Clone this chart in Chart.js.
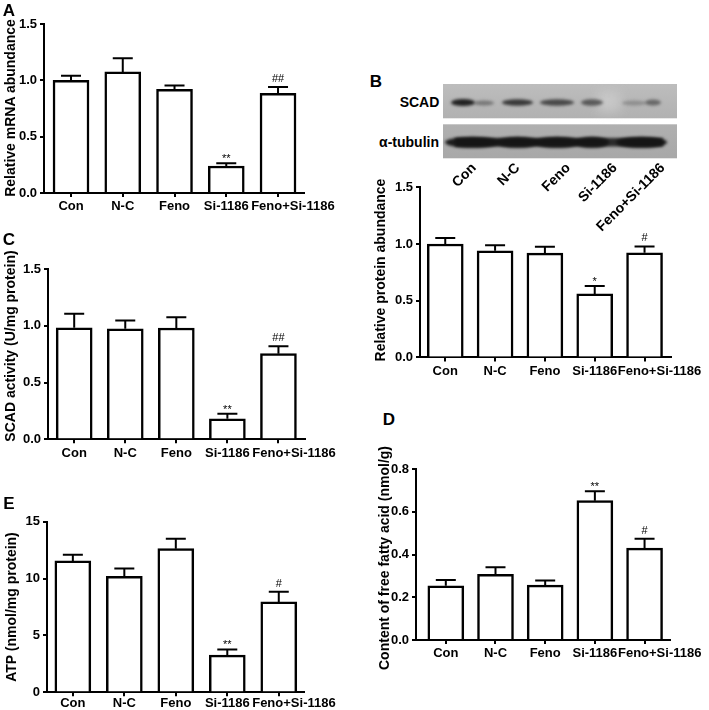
<!DOCTYPE html>
<html><head><meta charset="utf-8">
<script src="https://cdn.jsdelivr.net/npm/chart.js@4/dist/chart.umd.min.js"></script>
<style>
html,body{margin:0;padding:0;background:#fff;}
body{width:709px;height:710px;position:relative;overflow:hidden;font-family:"Liberation Sans",Arial,sans-serif;color:#000;}
.box{position:absolute;}
.txt{position:absolute;font-weight:bold;white-space:nowrap;line-height:1;}
.anchor{position:absolute;width:0;height:0;}
.rot{position:absolute;right:0;top:-0.5em;font-weight:bold;font-size:14px;line-height:1;white-space:nowrap;transform-origin:100% 50%;transform:rotate(-45deg);}
</style></head><body>
<script>
// ---------------- data ----------------
const categories = ['Con', 'N-C', 'Feno', 'Si-1186', 'Feno+Si-1186'];

const mrnaMean = [1.00, 1.075, 0.92, 0.24, 0.885];
const mrnaSem  = [0.04, 0.12, 0.035, 0.025, 0.055];
const mrnaMarks = ['', '', '', '**', '##'];
const mrnaTicks = ['0.0', '0.5', '1.0', '1.5'];

const proteinMean = [1.00, 0.94, 0.92, 0.56, 0.923];
const proteinSem  = [0.053, 0.05, 0.055, 0.07, 0.055];
const proteinMarks = ['', '', '', '*', '#'];
const proteinTicks = ['0.0', '0.5', '1.0', '1.5'];

const activityMean = [0.982, 0.974, 0.98, 0.181, 0.754];
const activitySem  = [0.123, 0.073, 0.096, 0.044, 0.065];
const activityMarks = ['', '', '', '**', '##'];
const activityTicks = ['0.0', '0.5', '1.0', '1.5'];

const ffaMean = [0.254, 0.307, 0.257, 0.652, 0.430];
const ffaSem  = [0.027, 0.033, 0.021, 0.044, 0.044];
const ffaMarks = ['', '', '', '**', '#'];
const ffaTicks = ['0.0', '0.2', '0.4', '0.6', '0.8'];

const atpMean = [11.55, 10.2, 12.63, 3.27, 7.95];
const atpSem  = [0.55, 0.68, 0.88, 0.5, 0.88];
const atpMarks = ['', '', '', '**', '#'];
const atpTicks = ['0', '5', '10', '15'];

// blot band intensities (lane, relative darkness)
const scadBandDarkness = [0.95, 0.8, 0.7, 0.6, 0.45];
const tubulinBandDarkness = [0.95, 0.92, 0.92, 0.92, 0.95];

// ---------------- styling / layout ----------------
const FONT = '"Liberation Sans", Arial, sans-serif';
const CAT_FONT = { family: FONT, size: 13, weight: 'bold' };
const measure = document.createElement('canvas').getContext('2d');
measure.font = 'bold 13px ' + FONT;

const errPlugin = {
  id: 'err',
  afterDatasetsDraw(chart, args, opts) {
    const ctx = chart.ctx, x = chart.scales.x, y = chart.scales.y;
    ctx.save();
    ctx.strokeStyle = '#000';
    ctx.lineWidth = 2;
    ctx.fillStyle = '#000';
    opts.mean.forEach((m, i) => {
      const px = x.getPixelForValue(i);
      const y0 = y.getPixelForValue(m);
      const y1 = y.getPixelForValue(m + opts.sem[i]);
      ctx.beginPath();
      ctx.moveTo(px, y0);
      ctx.lineTo(px, y1);
      ctx.moveTo(px - 10, y1);
      ctx.lineTo(px + 10, y1);
      ctx.stroke();
      const mk = opts.marks[i];
      if (mk) {
        ctx.font = '11px ' + FONT;
        ctx.textAlign = 'center';
        ctx.textBaseline = 'alphabetic';
        const off = mk[0] === '*' ? 0 : 4;
        ctx.fillText(mk, px, y1 - 1 - off);
      }
    });
    ctx.restore();
  }
};

function panel(box, area, xr, mean, sem, marks, tickLabels, xh, lpad) {
  const wrap = document.createElement('div');
  wrap.className = 'box';
  wrap.style.left = box.l + 'px';
  wrap.style.top = box.t + 'px';
  wrap.style.width = box.w + 'px';
  wrap.style.height = box.h + 'px';
  const cv = document.createElement('canvas');
  cv.width = box.w; cv.height = box.h;
  cv.style.width = box.w + 'px'; cv.style.height = box.h + 'px';
  wrap.appendChild(cv);
  document.body.appendChild(wrap);
  const YW = 30, XH = xh || 30;
  const tickVals = tickLabels.map(parseFloat);
  // label positions: centred under bars, pushed right when they would collide (as in the original)
  const pxPerUnit = (area.r - area.l) / (xr[1] - xr[0]);
  const labelPos = [];
  categories.forEach((c, i) => {
    let p = i;
    if (i > 0) {
      const prev = labelPos[i - 1];
      const need = (measure.measureText(categories[i - 1]).width + measure.measureText(c).width) / 2 + 2.5;
      const minP = prev + need / pxPerUnit;
      if (p < minP) p = minP;
    }
    labelPos.push(p);
  });
  new Chart(cv, {
    type: 'bar',
    data: {
      datasets: [{
        xAxisID: 'x',
        data: mean.map((v, i) => ({ x: i, y: v })),
        backgroundColor: '#ffffff',
        borderColor: '#000000',
        borderWidth: 2.5,
        borderSkipped: 'bottom',
        barThickness: 36
      }]
    },
    options: {
      responsive: false,
      animation: false,
      devicePixelRatio: 1,
      layout: { padding: {
        left: area.l - box.l - YW,
        right: box.l + box.w - area.r,
        top: area.t - box.t,
        bottom: box.t + box.h - area.b - XH
      } },
      plugins: {
        legend: { display: false },
        tooltip: { enabled: false },
        err: { mean: mean, sem: sem, marks: marks }
      },
      scales: {
        x: {
          type: 'linear', min: xr[0], max: xr[1], offset: false, z: 1, weight: 0,
          afterBuildTicks: s => { s.ticks = categories.map((c, i) => ({ value: i })); },
          afterFit: s => { s.height = 0; },
          ticks: { display: false },
          grid: { display: true, offset: false, drawOnChartArea: false, drawTicks: true, tickLength: 4, color: '#000', lineWidth: 2 },
          border: { display: true, color: '#000', width: 2 }
        },
        xl: {
          type: 'linear', axis: 'x', position: 'bottom', min: xr[0], max: xr[1], offset: false, z: 1, weight: 1,
          afterBuildTicks: s => { s.ticks = labelPos.map(v => ({ value: v })); },
          afterFit: s => { s.height = XH; },
          ticks: { callback: (v, i) => categories[i], font: CAT_FONT, color: '#000', padding: (lpad === undefined ? 6 : lpad), maxRotation: 0, autoSkip: false },
          grid: { display: false, drawTicks: false },
          border: { display: false }
        },
        y: {
          type: 'linear', min: tickVals[0], max: tickVals[tickVals.length - 1], z: 1,
          afterBuildTicks: s => { s.ticks = tickVals.map(v => ({ value: v })); },
          afterFit: s => { s.width = YW; },
          ticks: { callback: (v, i) => tickLabels[i], font: { family: FONT, size: 13, weight: 'bold' }, color: '#000', padding: 3 },
          grid: { display: true, drawOnChartArea: false, drawTicks: true, tickLength: 4, color: '#000', lineWidth: 2 },
          border: { display: true, color: '#000', width: 2 }
        }
      }
    },
    plugins: [errPlugin]
  });
}

// Panel A
panel({ l: 0, t: 0, w: 354, h: 232 }, { l: 44, r: 304, t: 24, b: 193 }, [-0.522, 4.502], mrnaMean, mrnaSem, mrnaMarks, mrnaTicks);
// Panel C
panel({ l: 0, t: 245, w: 354, h: 230 }, { l: 48, r: 305, t: 269, b: 439.3 }, [-0.513, 4.52], activityMean, activitySem, activityMarks, activityTicks);
// Panel E
panel({ l: 0, t: 500, w: 354, h: 210 }, { l: 47, r: 304, t: 521.7, b: 692.3 }, [-0.502, 4.49], atpMean, atpSem, atpMarks, atpTicks, 17, 3);
// Panel B (bars)
panel({ l: 360, t: 175, w: 349, h: 210 }, { l: 420, r: 678, t: 187.3, b: 357.4 }, [-0.507, 4.53], proteinMean, proteinSem, proteinMarks, proteinTicks);
// Panel D
panel({ l: 360, t: 450, w: 349, h: 225 }, { l: 416, r: 677, t: 469, b: 640 }, [-0.60, 4.51], ffaMean, ffaSem, ffaMarks, ffaTicks);

// ---------------- text ----------------
function addText(s, x, y, size, align, rotate) {
  const d = document.createElement('div');
  d.className = 'txt';
  d.textContent = s;
  d.style.left = x + 'px';
  d.style.top = y + 'px';
  d.style.fontSize = size + 'px';
  const tx = align === 'right' ? '-100%' : '-50%';
  d.style.transform = 'translate(' + tx + ',-50%)' + (rotate ? ' rotate(' + rotate + 'deg)' : '');
  document.body.appendChild(d);
}
addText('A', 9, 10, 17);
addText('B', 376, 81, 17);
addText('C', 9, 239, 17);
addText('D', 389, 419, 17);
addText('E', 9, 502.5, 17);

addText('Relative mRNA abundance', 10, 108, 14, 'center', -90);
addText('SCAD activity (U/mg protein)', 10, 346, 14, 'center', -90);
addText('ATP (nmol/mg protein)', 11, 607, 14, 'center', -90);
addText('Relative protein abundance', 380, 270, 14, 'center', -90);
addText('Content of free fatty acid (nmol/g)', 384, 558, 14, 'center', -90);

addText('SCAD', 439.3, 101.7, 14, 'right');
addText('\u03b1-tubulin', 439, 141.7, 14, 'right');

const rotEnds = [477, 520.5, 570.5, 618, 665];
categories.forEach((c, i) => {
  const a = document.createElement('div');
  a.className = 'anchor';
  a.style.left = (rotEnds[i] - 3.5) + 'px';
  a.style.top = '165px';
  const s = document.createElement('span');
  s.className = 'rot';
  s.textContent = c;
  a.appendChild(s);
  document.body.appendChild(a);
});

// ---------------- western blot picture ----------------
(function () {
  const cv = document.createElement('canvas');
  cv.width = 709; cv.height = 170;
  cv.style.position = 'absolute'; cv.style.left = '0px'; cv.style.top = '0px';
  document.body.appendChild(cv);
  const ctx = cv.getContext('2d');
  function strip(y0, y1, c0, c1) {
    const g = ctx.createLinearGradient(0, y0, 0, y1);
    g.addColorStop(0, c0); g.addColorStop(1, c1);
    ctx.fillStyle = g;
    ctx.fillRect(443, y0, 234, y1 - y0);
  }
  strip(84, 118.3, '#bdbdbd', '#b1b1b1');
  strip(124.3, 158.3, '#b0b0b0', '#a8a8a8');
  ctx.save();
  ctx.filter = 'blur(6px)';
  ctx.fillStyle = 'rgba(220,220,220,0.5)';
  ctx.fillRect(598, 92, 22, 20);
  ctx.restore();
  const lanes = [[451, 494], [502, 533], [540, 574], [581, 603], [622, 661]];
  ctx.save();
  ctx.filter = 'blur(1.5px)';
  lanes.forEach((ln, i) => {
    const d = scadBandDarkness[i];
    const cx = (ln[0] + ln[1]) / 2, rx = (ln[1] - ln[0]) / 2;
    ctx.fillStyle = 'rgba(25,25,25,' + d + ')';
    ctx.beginPath();
    if (i === 0) {
      ctx.ellipse(463, 102.5, 12, 3.6, 0, 0, Math.PI * 2);
      ctx.fill();
      ctx.fillStyle = 'rgba(25,25,25,0.4)';
      ctx.beginPath();
      ctx.ellipse(484, 103, 10, 2.6, 0, 0, Math.PI * 2);
    } else if (i === 4) {
      ctx.fillStyle = 'rgba(25,25,25,0.25)';
      ctx.ellipse(634, 103, 12, 2.5, 0, 0, Math.PI * 2);
      ctx.fill();
      ctx.fillStyle = 'rgba(25,25,25,0.5)';
      ctx.beginPath();
      ctx.ellipse(653, 102.5, 8, 3, 0, 0, Math.PI * 2);
    } else {
      ctx.ellipse(cx, 102.5, rx, 3.3, 0, 0, Math.PI * 2);
    }
    ctx.fill();
  });
  lanes.forEach((ln, i) => {
    const d = tubulinBandDarkness[i];
    ctx.fillStyle = 'rgba(20,20,20,' + d + ')';
    ctx.beginPath();
    ctx.ellipse((ln[0] + ln[1]) / 2, 142.3, (ln[1] - ln[0]) / 2 + 6, 5.5, 0, 0, Math.PI * 2);
    ctx.fill();
  });
  ctx.fillStyle = 'rgba(20,20,20,0.85)';
  ctx.fillRect(455, 138, 208, 8.5);
  ctx.restore();
})();
</script>
</body></html>
